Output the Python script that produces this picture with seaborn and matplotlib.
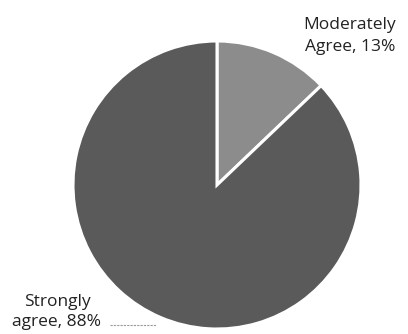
import matplotlib
matplotlib.use("Agg")
import matplotlib.pyplot as plt
import seaborn as sns

# Survey responses
categories = ["Moderately\nAgree", "Strongly\nagree"]
percents = [13, 88]
colors = ["#8c8c8c", "#5a5a5a"]

sns.set_style("white")
plt.rcParams['font.family'] = ['Open Sans', 'DejaVu Sans']

fig = plt.figure(figsize=(4.08, 3.34), dpi=100)
ax = fig.add_axes([0, 0, 1, 1])

# pie drawn in pixel-like data coords (y up)
ax.pie(percents, colors=colors, startangle=90, counterclock=False,
       center=(217, 149), radius=144,
       wedgeprops=dict(edgecolor="white", linewidth=2.2))
ax.set_xlim(0, 408)
ax.set_ylim(0, 334)
ax.set_aspect("equal", adjustable="datalim")
ax.axis("off")

labels = [f"{c}, {p}%" for c, p in zip(categories, percents)]
ax.text(350, 334 - 36, labels[0], ha="center", va="center",
        fontsize=12.5, color="#222222", linespacing=1.5)
ax.text(57, 334 - 312, labels[1], ha="center", va="center",
        fontsize=12.5, color="#222222", linespacing=1.4)

# leader line for the big slice
ax.plot([110, 156], [334 - 325, 334 - 325], color="#999999", lw=0.8, ls=(0, (2, 1)))

fig.savefig("out.png", dpi=100)
